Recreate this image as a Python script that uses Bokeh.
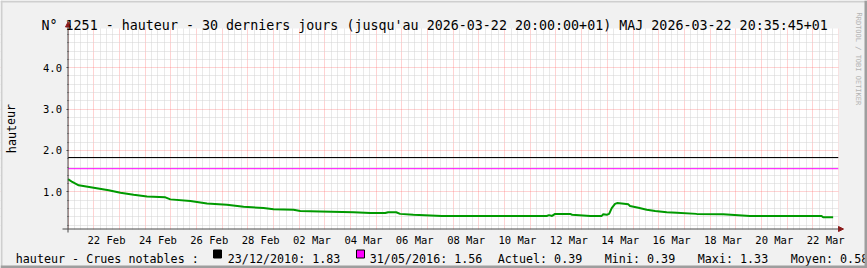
import pandas as pd
from bokeh.plotting import figure
from bokeh.models import (FixedTicker, DatetimeTickFormatter, Label, BoxAnnotation,
                          Arrow, NormalHead, Range1d, PrintfTickFormatter, ColumnDataSource)
from bokeh.embed import file_html
from bokeh.resources import INLINE

# ---------------- data ----------------
times = [
    "2026-02-21 00:00", "2026-02-21 04:00", "2026-02-21 10:00", "2026-02-22 00:00",
    "2026-02-22 14:00", "2026-02-23 01:00", "2026-02-23 13:20", "2026-02-24 01:50",
    "2026-02-24 19:00", "2026-02-24 23:40", "2026-02-25 18:20", "2026-02-26 09:50",
    "2026-02-27 04:30", "2026-02-27 20:05", "2026-02-28 14:45", "2026-03-01 00:05",
    "2026-03-01 18:45", "2026-03-02 01:00", "2026-03-02 19:40", "2026-03-04 02:50",
    "2026-03-04 18:25", "2026-03-05 08:25", "2026-03-05 11:10", "2026-03-05 18:40",
    "2026-03-05 22:20", "2026-03-06 10:50", "2026-03-07 13:20", "2026-03-11 15:20",
    "2026-03-11 17:30", "2026-03-11 20:20", "2026-03-11 23:10", "2026-03-12 13:10",
    "2026-03-12 15:05", "2026-03-13 08:00", "2026-03-13 18:45", "2026-03-13 20:10",
    "2026-03-13 23:30", "2026-03-14 01:40", "2026-03-14 04:05", "2026-03-14 07:10",
    "2026-03-14 09:05", "2026-03-14 13:30", "2026-03-14 19:40", "2026-03-14 21:10",
    "2026-03-15 05:00", "2026-03-15 12:50", "2026-03-15 20:40", "2026-03-16 07:30",
    "2026-03-16 16:50", "2026-03-17 11:30", "2026-03-18 12:15", "2026-03-19 13:10",
    "2026-03-22 08:10", "2026-03-22 09:40", "2026-03-22 19:00",
]
hauteur = [
    1.31, 1.24, 1.16, 1.10,
    1.04, 0.98, 0.93, 0.89,
    0.87, 0.82, 0.78, 0.72,
    0.69, 0.64, 0.61, 0.58,
    0.57, 0.54, 0.53, 0.51,
    0.49, 0.49, 0.51, 0.51,
    0.47, 0.45, 0.42, 0.42,
    0.44, 0.42, 0.47, 0.47,
    0.45, 0.42, 0.42, 0.46,
    0.45, 0.47, 0.61, 0.71,
    0.73, 0.72, 0.70, 0.66,
    0.62, 0.57, 0.54, 0.51,
    0.50, 0.47, 0.46, 0.42,
    0.42, 0.39, 0.39,
]

crue_dates = ["23/12/2010", "31/05/2016"]
crue_values = [1.83, 1.56]
crue_colors = ["#000000", "#ff00ff"]
actuel, mini, maxi, moyen = 0.39, 0.39, 1.33, 0.58

title_text = ("N° 1251 - hauteur - 30 derniers jours (jusqu'au 2026-03-22 20:00:00+01) "
              "MAJ 2026-03-22 20:35:45+01")
y_label = "hauteur"
legend_head = "hauteur - Crues notables :"
watermark = "RRDTOOL / TOBI OETIKER"

x_start = pd.Timestamp("2026-02-21 00:00")
x_end = pd.Timestamp("2026-03-23 00:00")
y_min, y_max = 0.105, 4.944
y_major = [1.0, 2.0, 3.0, 4.0]
label_days = pd.date_range("2026-02-22", "2026-03-22", freq="2D")

# ---------------- layout / styles ----------------
W, H = 867, 268
PX_L, PX_R, PX_T, PX_B = 67.5, 838.0, 28.0, 228.5   # plot area inside the canvas
FONT = "DejaVu Sans Mono"
AXIS = "#4a4a4a"
ARROW = "#8b1a1a"
LINE = "#009a00"
BACK = "#f1f1f1"


def ms(ts):
    return float(pd.Timestamp(ts).value // 10**6)


xs_ms, xe_ms = ms(x_start), ms(x_end)
ms_per_px = (xe_ms - xs_ms) / (PX_R - PX_L)
v_per_px = (y_max - y_min) / (PX_B - PX_T)
x_range = Range1d(xs_ms - PX_L * ms_per_px, xe_ms + (W - PX_R) * ms_per_px)
y_range = Range1d(y_min - (H - PX_B) * v_per_px, y_max + PX_T * v_per_px)

label_ticks = [ms(d + pd.Timedelta(hours=12)) for d in label_days]
midnights = [ms(d) for d in pd.date_range(x_start, x_end, freq="1D")]
six_hours = [ms(d) for d in pd.date_range(x_start, x_end, freq="6h") if d.hour != 0]
y_minor = [round(0.2 * k, 1) for k in range(1, 25) if (k % 5) != 0]

src = ColumnDataSource(dict(t=pd.to_datetime(times), v=hauteur))

p = figure(width=W, height=H, x_axis_type="datetime", x_range=x_range, y_range=y_range,
           output_backend="svg", toolbar_location=None,
           min_border_left=0, min_border_right=0, min_border_top=0, min_border_bottom=0,
           background_fill_color="white", border_fill_color=BACK, outline_line_color=None)

# x axis (inside the frame, at the bottom of the plot area)
p.xaxis.fixed_location = y_min
p.xaxis.bounds = (xs_ms, xe_ms)
p.xaxis.ticker = FixedTicker(ticks=label_ticks)
fmt = "%d %b"
p.xaxis.formatter = DatetimeTickFormatter(days=fmt, months=fmt, hours=fmt, hourmin=fmt,
                                          minutes=fmt, minsec=fmt, seconds=fmt,
                                          milliseconds=fmt, microseconds=fmt, years=fmt)
p.xaxis.major_tick_line_color = None
p.xaxis.minor_tick_line_color = None
p.xaxis.major_tick_out = 0
p.xaxis.major_tick_in = 0
p.xaxis.axis_line_color = None
p.xaxis.major_label_standoff = 5
p.xaxis.major_label_text_font = FONT
p.xaxis.major_label_text_font_size = "10.5px"
p.xaxis.major_label_text_color = "#000000"

# y axis
p.yaxis.fixed_location = xs_ms
p.yaxis.bounds = (y_min, y_max)
p.yaxis.ticker = FixedTicker(ticks=y_major, minor_ticks=y_minor)
p.yaxis.formatter = PrintfTickFormatter(format="%.1f")
p.yaxis.axis_line_color = None
p.yaxis.major_tick_line_color = AXIS
p.yaxis.major_tick_out = 2
p.yaxis.major_tick_in = 0
p.yaxis.minor_tick_line_color = AXIS
p.yaxis.minor_tick_out = 1
p.yaxis.minor_tick_in = 0
p.yaxis.major_label_standoff = 4
p.yaxis.major_label_text_font = FONT
p.yaxis.major_label_text_font_size = "10.5px"
p.yaxis.major_label_text_color = "#000000"

# grids
p.xgrid.ticker = FixedTicker(ticks=midnights, minor_ticks=six_hours)
p.ygrid.ticker = FixedTicker(ticks=y_major, minor_ticks=y_minor)
for g in (p.xgrid, p.ygrid):
    g.grid_line_color = "#ff5f5f"
    g.grid_line_alpha = 0.55
    g.grid_line_dash = "1 1"
    g.minor_grid_line_color = "#d2d2d2"
    g.minor_grid_line_alpha = 1.0
    g.minor_grid_line_dash = "1 1"

# notable floods
for val, col in zip(crue_values, crue_colors):
    p.segment(x0=[xs_ms], x1=[xe_ms], y0=[val], y1=[val], line_color=col, line_width=1)

# series
p.line("t", "v", source=src, line_color=LINE, line_width=2)

# grey margins around the plot area (hide grid lines outside it)
for (l, r, t, b) in [(0, 67, 0, H), (838, W, 0, H), (0, W, 0, 28), (0, W, 229, H)]:
    p.add_layout(BoxAnnotation(left=l, right=r, top=t, bottom=b, level="glyph",
                               left_units="canvas", right_units="canvas",
                               top_units="canvas", bottom_units="canvas",
                               fill_color=BACK, fill_alpha=1.0, line_color=None))

# axes lines with arrows
p.add_layout(Arrow(x_start=62, y_start=PX_B, x_end=843, y_end=PX_B,
                   start_units="canvas", end_units="canvas", start=None,
                   line_color=AXIS, line_width=1,
                   end=NormalHead(size=5, fill_color=ARROW, line_color=ARROW)))
p.add_layout(Arrow(x_start=PX_L, y_start=232, x_end=PX_L, y_end=21.5,
                   start_units="canvas", end_units="canvas", start=None,
                   line_color=AXIS, line_width=1,
                   end=NormalHead(size=5, fill_color=ARROW, line_color=ARROW)))

# title
p.add_layout(Label(x=41, y=24.5, x_units="canvas", y_units="canvas", text=title_text,
                   text_font=FONT, text_font_size="13.33px", text_baseline="alphabetic",
                   text_align="left", text_color="#000000"))
# y label
p.add_layout(Label(x=11, y=128, x_units="canvas", y_units="canvas", text=y_label,
                   angle=1.5708, text_font=FONT, text_font_size="11.7px",
                   text_baseline="middle", text_align="center", text_color="#000000"))
# watermark
p.add_layout(Label(x=858, y=12, x_units="canvas", y_units="canvas", text=watermark,
                   angle=-1.5708, text_font=FONT, text_font_size="7px",
                   text_baseline="middle", text_align="left", text_color="#b4b4b4"))

# legend row
LEG_Y = 258
legend_items = [
    (15.3, legend_head),
    (227.3, f"{crue_dates[0]}: {crue_values[0]:.2f}"),
    (369.3, f"{crue_dates[1]}: {crue_values[1]:.2f}"),
    (497.3, f"Actuel: {actuel:.2f}"),
    (604.3, f"Mini: {mini:.2f}"),
    (697.3, f"Maxi: {maxi:.2f}"),
    (790.3, f"Moyen: {moyen:.2f}"),
]
for x, t in legend_items:
    p.add_layout(Label(x=x, y=LEG_Y, x_units="canvas", y_units="canvas", text=t,
                       text_font=FONT, text_font_size="11.7px", text_baseline="alphabetic",
                       text_align="left", text_color="#000000"))
for left, col in zip([213, 356], crue_colors):
    p.add_layout(BoxAnnotation(left=left, right=left + 8, top=249.5, bottom=257.5,
                               left_units="canvas", right_units="canvas",
                               top_units="canvas", bottom_units="canvas",
                               fill_color=col, fill_alpha=1.0,
                               line_color="#000000", line_width=1, line_alpha=1.0))

# 3D frame of the image
for (l, r, t, b, c) in [(0, W, 0, 2, "#cfcfcf"), (0, 2, 0, H, "#cfcfcf"),
                        (0, W, 265, H, "#9e9e9e"), (864, W, 0, H, "#9e9e9e")]:
    p.add_layout(BoxAnnotation(left=l, right=r, top=t, bottom=b, level="overlay",
                               left_units="canvas", right_units="canvas",
                               top_units="canvas", bottom_units="canvas",
                               fill_color=c, fill_alpha=1.0, line_color=None))

open("out.html", "w").write(file_html(p, INLINE))
